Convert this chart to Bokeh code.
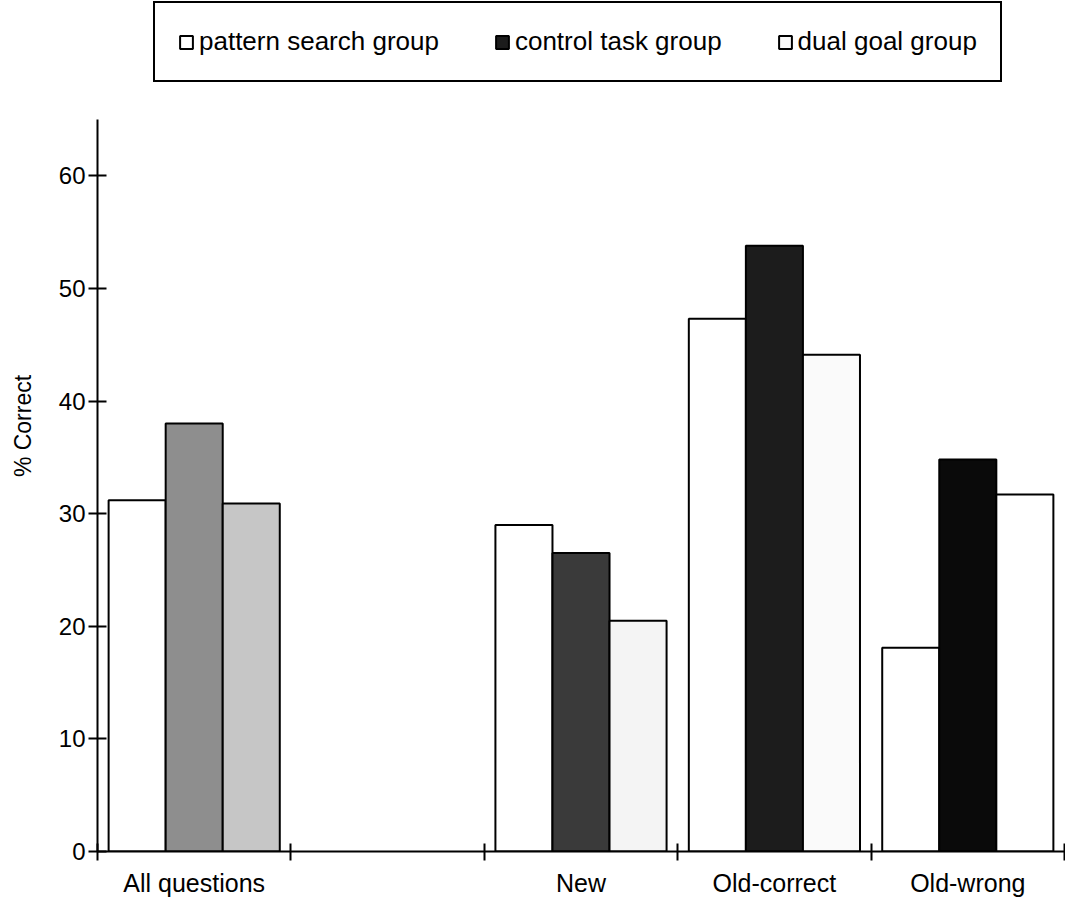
from bokeh.plotting import figure
from bokeh.models import ColumnDataSource, Range1d, FixedTicker, Legend, LegendItem
from bokeh.embed import file_html
from bokeh.resources import INLINE

# ---- data ----
categories = ["All questions", "", "New", "Old-correct", "Old-wrong"]
series_names = ["pattern search group", "control task group", "dual goal group"]
pattern_search = [31.2, None, 29.0, 47.3, 18.1]
control_task = [38.0, None, 26.5, 53.8, 34.8]
dual_goal = [30.9, None, 20.5, 44.1, 31.7]
y_ticks = [0, 10, 20, 30, 40, 50, 60]
y_axis_max = 65

# ---- styles / layout ----
pattern_fill = ["#ffffff", None, "#ffffff", "#ffffff", "#ffffff"]
control_fill = ["#8e8e8e", None, "#3a3a3a", "#1c1c1c", "#0a0a0a"]
dual_fill = ["#c6c6c6", None, "#f4f4f4", "#fafafa", "#ffffff"]
offsets = [-0.295, 0.0, 0.295]
bar_w = 0.295
FONT = "Liberation Sans"
W, H = 1065, 899
B_LEFT, B_RIGHT, B_BOTTOM = 97, 1, 48
frame_h = H - B_BOTTOM                 # frame spans from canvas top to bottom border
axis_px = frame_h - 119                # pixels used by the 0..65 axis
y_top = y_axis_max * frame_h / axis_px

p = figure(width=W, height=H, output_backend="svg", toolbar_location=None,
           x_range=Range1d(0, len(categories)), y_range=Range1d(0, y_top),
           min_border_left=B_LEFT, min_border_right=B_RIGHT, min_border_top=0,
           min_border_bottom=B_BOTTOM)
p.background_fill_color = "white"
p.border_fill_color = "white"
p.outline_line_color = None
p.xgrid.grid_line_color = None
p.ygrid.grid_line_color = None

renderers = []
for vals, fills, off in zip([pattern_search, control_task, dual_goal],
                            [pattern_fill, control_fill, dual_fill], offsets):
    xs, tops, fc = [], [], []
    for i, v in enumerate(vals):
        if v is None:
            continue
        xs.append(i + 0.5 + off)
        tops.append(v)
        fc.append(fills[i])
    src = ColumnDataSource(dict(x=xs, top=tops, fill=fc))
    r = p.vbar(x="x", top="top", bottom=0, width=bar_w, source=src,
               fill_color="fill", line_color="black", line_width=2)
    renderers.append(r)

legend = Legend(items=[
    LegendItem(label=series_names[0], renderers=[renderers[0]], index=0),
    LegendItem(label=series_names[1], renderers=[renderers[1]], index=2),
    LegendItem(label=series_names[2], renderers=[renderers[2]], index=2),
], orientation="horizontal", location=(153 - B_LEFT, frame_h - 82))
legend.label_text_font = FONT
legend.label_text_font_size = "26px"
legend.label_text_color = "black"
legend.glyph_width = 16
legend.glyph_height = 16
legend.label_standoff = 5
legend.label_height = 26
legend.spacing = 55
legend.padding = 23
legend.margin = 0
legend.border_line_color = "black"
legend.border_line_width = 2
legend.border_line_alpha = 1
legend.background_fill_color = "white"
legend.background_fill_alpha = 1
p.add_layout(legend, "center")

# y axis
ya = p.yaxis[0]
ya.ticker = FixedTicker(ticks=y_ticks)
ya.bounds = (0, y_axis_max)
ya.axis_label = "% Correct"
ya.axis_label_text_font = FONT
ya.axis_label_text_font_size = "23px"
ya.axis_label_text_font_style = "normal"
ya.axis_label_text_color = "black"
ya.axis_label_standoff = 20
ya.major_label_text_font = FONT
ya.major_label_text_font_size = "24px"
ya.major_label_text_color = "black"
ya.major_label_standoff = 3
ya.major_tick_in = 9
ya.major_tick_out = 9
ya.major_tick_line_width = 2
ya.major_tick_line_color = "black"
ya.minor_tick_line_color = None
ya.axis_line_width = 2
ya.axis_line_color = "black"

# x axis
xa = p.xaxis[0]
centers = [i + 0.5 for i in range(len(categories))]
bounds = [float(i) for i in range(len(categories) + 1)]
xa.ticker = FixedTicker(ticks=centers, minor_ticks=bounds)
xa.major_label_overrides = {c: lab for c, lab in zip(centers, categories)}
xa.major_label_text_font = FONT
xa.major_label_text_font_size = "25px"
xa.major_label_text_color = "black"
xa.major_label_standoff = 8
xa.major_tick_in = 0
xa.major_tick_out = 0
xa.minor_tick_in = 8
xa.minor_tick_out = 9
xa.minor_tick_line_width = 2
xa.minor_tick_line_color = "black"
xa.axis_line_width = 2
xa.axis_line_color = "black"

open("out.html", "w").write(file_html(p, INLINE))
